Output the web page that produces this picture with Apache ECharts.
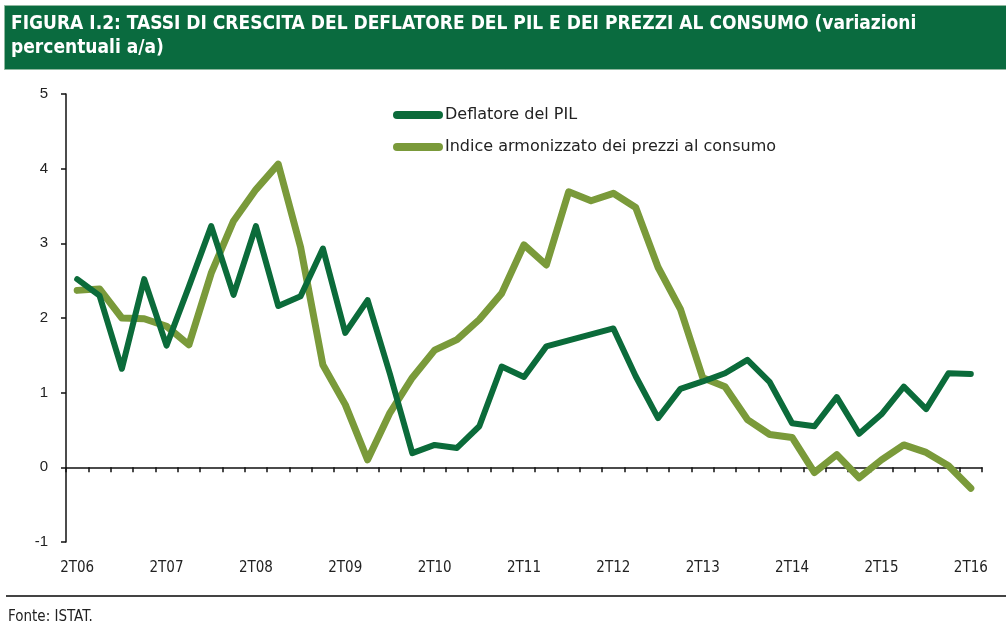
<!DOCTYPE html>
<html>
<head>
    <meta charset="utf-8" />
    <title>Figura I.2</title>
    <script src="https://cdn.jsdelivr.net/npm/echarts@6/dist/echarts.min.js"></script>
    <style>
        html, body { margin: 0; padding: 0; background: #fff; }
    </style>
</head>
<body>
    <div id="main" style="width:1006px;height:635px"></div>
    <script type="text/javascript">

        var quarters = ['2T06', '3T06', '4T06', '1T07', '2T07', '3T07', '4T07', '1T08', '2T08', '3T08', '4T08',
            '1T09', '2T09', '3T09', '4T09', '1T10', '2T10', '3T10', '4T10', '1T11', '2T11', '3T11', '4T11',
            '1T12', '2T12', '3T12', '4T12', '1T13', '2T13', '3T13', '4T13', '1T14', '2T14', '3T14', '4T14',
            '1T15', '2T15', '3T15', '4T15', '1T16', '2T16'];

        var deflatore = [2.52, 2.3, 1.32, 2.52, 1.63, 2.42, 3.23, 2.31, 3.23, 2.16, 2.29,
            2.93, 1.8, 2.24, 1.25, 0.19, 0.3, 0.26, 0.55, 1.35, 1.21, 1.62, 1.7,
            1.78, 1.86, 1.22, 0.66, 1.05, 1.15, 1.26, 1.44, 1.14, 0.59, 0.55, 0.94,
            0.45, 0.71, 1.08, 0.78, 1.26, 1.25];

        var ipca = [2.37, 2.39, 2.0, 1.99, 1.89, 1.64, 2.6, 3.3, 3.72, 4.06, 2.95,
            1.37, 0.84, 0.1, 0.73, 1.2, 1.57, 1.71, 1.98, 2.33, 2.98, 2.71, 3.69,
            3.57, 3.67, 3.48, 2.68, 2.12, 1.2, 1.08, 0.64, 0.44, 0.4, -0.07, 0.17,
            -0.14, 0.1, 0.3, 0.2, 0.02, -0.28];

        var titleLines = ['FIGURA I.2: TASSI DI CRESCITA DEL DEFLATORE DEL PIL E DEI PREZZI AL CONSUMO (variazioni',
            'percentuali a/a)'];
        var source = 'Fonte: ISTAT.';

        var darkGreen = '#0b6b3a';
        var lightGreen = '#7a9a3a';
        var legendIcon = 'path://M4,0 L46,0 A4,4 0 0 1 46,8 L4,8 A4,4 0 0 1 4,0 Z';

        var chartDom = document.getElementById('main');
        var myChart = echarts.init(chartDom);
        var option;

        option = {
            animation: false,
            textStyle: { fontFamily: 'Liberation Sans' },
            grid: { left: 66, right: 24, top: 94, bottom: 93 },
            legend: {
                orient: 'vertical',
                left: 388,
                top: 102,
                itemWidth: 52,
                itemHeight: 8,
                itemGap: 16,
                textStyle: { fontSize: 16, color: '#222', fontFamily: 'DejaVu Sans', padding: [0, 0, 0, -4] },
                data: [
                    { name: 'Deflatore del PIL', icon: legendIcon },
                    { name: 'Indice armonizzato dei prezzi al consumo', icon: legendIcon }
                ]
            },
            xAxis: [{
                type: 'category',
                data: quarters,
                boundaryGap: true,
                axisLine: { onZero: true, lineStyle: { color: '#111', width: 1.5 } },
                axisTick: { show: true, interval: 0, length: 5, inside: false, lineStyle: { color: '#111', width: 1.5 } },
                axisLabel: { show: false }
            }, {
                type: 'category',
                data: quarters,
                position: 'bottom',
                boundaryGap: true,
                axisLine: { show: false, onZero: false },
                axisTick: { show: false },
                axisLabel: {
                    interval: 3,
                    margin: 19,
                    fontSize: 15,
                    color: '#222',
                    fontFamily: 'Liberation Sans Narrow, DejaVu Sans Condensed'
                }
            }],
            yAxis: {
                type: 'value',
                min: -1,
                max: 5,
                interval: 1,
                splitLine: { show: false },
                axisLine: { show: true, lineStyle: { color: '#111', width: 1.5 } },
                axisTick: { show: true, length: 5, lineStyle: { color: '#111', width: 1.5 } },
                axisLabel: { fontSize: 15, color: '#222', margin: 18, fontFamily: 'Liberation Sans' }
            },
            series: [{
                name: 'Deflatore del PIL',
                type: 'line',
                xAxisIndex: 0,
                data: deflatore,
                symbol: 'none',
                color: darkGreen,
                lineStyle: { width: 6, color: darkGreen, join: 'round', cap: 'round' },
                z: 3
            }, {
                name: 'Indice armonizzato dei prezzi al consumo',
                type: 'line',
                xAxisIndex: 0,
                data: ipca,
                symbol: 'none',
                color: lightGreen,
                lineStyle: { width: 7, color: lightGreen, join: 'round', cap: 'round' },
                z: 2
            }],
            graphic: [{
                type: 'rect',
                left: 4, top: 5,
                shape: { width: 1002, height: 64 },
                style: { fill: '#0a6b3f', stroke: '#8fb89f', lineWidth: 1 },
                silent: true
            }, {
                type: 'text',
                left: 11, top: 15,
                style: {
                    text: titleLines[0],
                    fill: '#fff',
                    font: 'bold 19px "DejaVu Sans Condensed"'
                }
            }, {
                type: 'text',
                left: 11, top: 39,
                style: {
                    text: titleLines[1],
                    fill: '#fff',
                    font: 'bold 19px "DejaVu Sans Condensed"'
                }
            }, {
                type: 'rect',
                left: 6, top: 595,
                shape: { width: 1000, height: 2 },
                style: { fill: '#444' },
                silent: true
            }, {
                type: 'text',
                left: 8, top: 610,
                style: {
                    text: source,
                    fill: '#222',
                    font: '15px "DejaVu Sans Condensed"'
                }
            }]
        };

        option && myChart.setOption(option);

    </script>
</body>
</html>
